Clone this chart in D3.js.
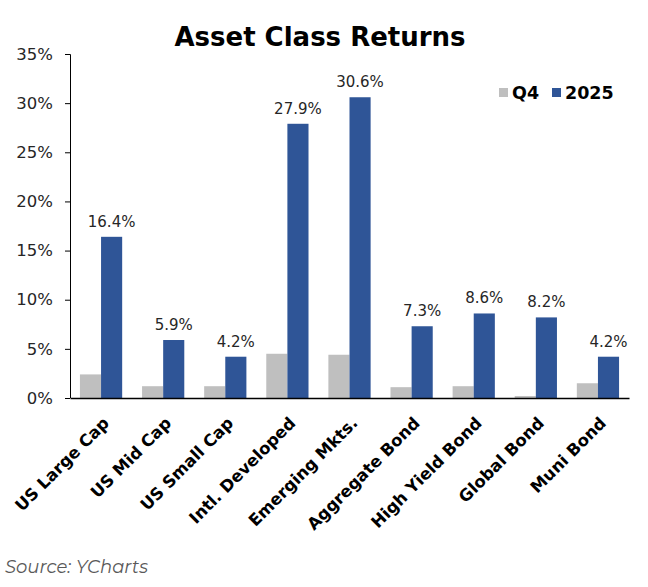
<!DOCTYPE html>
<html>
<head>
<meta charset="utf-8">
<script src="https://cdn.jsdelivr.net/npm/d3@7"></script>
<style>
  body { margin: 0; background: #fff; }
  svg { display: block; }
</style>
</head>
<body>
<svg id="chart" width="648" height="587"></svg>
<script>
var categories = ["US Large Cap", "US Mid Cap", "US Small Cap", "Intl. Developed", "Emerging Mkts.",
                  "Aggregate Bond", "High Yield Bond", "Global Bond", "Muni Bond"];
var seriesNames = ["Q4", "2025"];
var q4Values = [2.4, 1.2, 1.2, 4.5, 4.4, 1.1, 1.2, 0.2, 1.5];
var yearValues = [16.4, 5.9, 4.2, 27.9, 30.6, 7.3, 8.6, 8.2, 4.2];
var yTicks = [0, 5, 10, 15, 20, 25, 30, 35];
var colors = ["#bfbfbf", "#2f5597"];

var SANS = "'DejaVu Sans'";
var MONT = "'Montserrat'";

var svg = d3.select("#chart");
var margin = {left: 70, right: 19, top: 54, bottom: 189};
var width = 648 - margin.left - margin.right;
var height = 587 - margin.top - margin.bottom;

var g = svg.append("g")
    .attr("transform", "translate(" + margin.left + "," + margin.top + ")");

var x0 = d3.scaleBand().domain(categories).range([0, width]).paddingInner(0.32).paddingOuter(0.16);
var x1 = d3.scaleBand().domain(seriesNames).range([0, x0.bandwidth()]);
var y = d3.scaleLinear().domain([0, 35]).range([height, 0]);

// title
svg.append("text")
    .attr("x", 320).attr("y", 46)
    .attr("text-anchor", "middle")
    .style("font-family", SANS)
    .style("font-weight", "bold")
    .style("font-size", "26px")
    .text("Asset Class Returns");

// bars
var rows = categories.map(function (c, i) {
    return {cat: c, vals: [q4Values[i], yearValues[i]]};
});

var grp = g.selectAll(".grp").data(rows).enter().append("g")
    .attr("transform", function (d) { return "translate(" + x0(d.cat) + ",0)"; });

grp.selectAll("rect")
    .data(function (d) { return d.vals.map(function (v, j) { return {s: seriesNames[j], v: v, j: j}; }); })
    .enter().append("rect")
    .attr("x", function (d) { return x1(d.s); })
    .attr("width", x1.bandwidth())
    .attr("y", function (d) { return y(d.v); })
    .attr("height", function (d) { return height - y(d.v); })
    .attr("fill", function (d) { return colors[d.j]; });

// value labels on 2025 bars
grp.append("text")
    .attr("x", x1("2025") + x1.bandwidth() / 2)
    .attr("y", function (d) { return y(d.vals[1]) - 10; })
    .attr("text-anchor", "middle")
    .style("font-family", SANS)
    .style("font-size", "15px")
    .style("fill", "#262626")
    .text(function (d) { return d.vals[1].toFixed(1) + "%"; });

// y axis
var yAxis = g.append("g")
    .call(d3.axisLeft(y).tickValues(yTicks).tickSize(5).tickFormat(function (d) { return d + "%"; }));
yAxis.select(".domain").attr("stroke", "#000").attr("d", "M-5,0.5H0.5V" + height);
yAxis.selectAll("text")
    .attr("x", -17)
    .style("font-family", SANS)
    .style("font-size", "16.5px")
    .style("fill", "#262626");

// x axis
var xAxis = g.append("g")
    .attr("transform", "translate(0," + height + ")")
    .call(d3.axisBottom(x0).tickSize(0).tickSizeOuter(0));
xAxis.select(".domain").attr("stroke", "#000").attr("stroke-width", 1.5);
xAxis.selectAll("text")
    .attr("transform", "translate(1,18) rotate(-45)")
    .attr("dy", "0.7em")
    .attr("y", 0)
    .attr("x", 0)
    .attr("text-anchor", "end")
    .style("font-family", SANS)
    .style("font-weight", "bold")
    .style("font-size", "16.5px")
    .style("fill", "#000");

// legend
var legend = svg.append("g").attr("transform", "translate(499,87)");
var lx = [0, 53];
seriesNames.forEach(function (s, i) {
    legend.append("rect")
        .attr("x", lx[i]).attr("y", 1)
        .attr("width", 9).attr("height", 9)
        .attr("fill", colors[i]);
    legend.append("text")
        .attr("x", lx[i] + 13).attr("y", 12)
        .style("font-family", SANS)
        .style("font-weight", "bold")
        .style("font-size", "17.5px")
        .text(s);
});

// source
svg.append("text")
    .attr("x", 5).attr("y", 573)
    .style("font-family", MONT)
    .style("font-style", "italic")
    .style("font-size", "18px")
    .style("fill", "#595959")
    .text("Source: YCharts");
</script>
</body>
</html>
